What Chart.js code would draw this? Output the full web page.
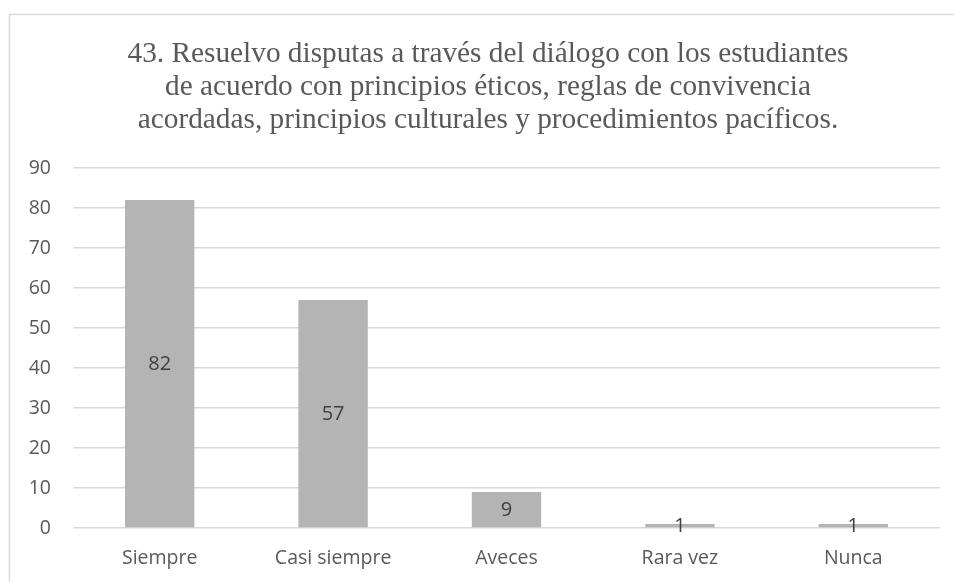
<!DOCTYPE html>
<html>
<head>
<meta charset="utf-8">
<script src="https://cdn.jsdelivr.net/npm/chart.js@4"></script>
<style>
  html, body { margin: 0; padding: 0; background: #fff; }
  #wrap { position: relative; width: 954px; height: 582px; }
</style>
</head>
<body>
<div id="wrap"><canvas id="chart" width="954" height="582"></canvas></div>
<script>
// Respuestas a la pregunta 43
const categories = ["Siempre", "Casi siempre", "Aveces", "Rara vez", "Nunca"];
const counts = [82, 57, 9, 1, 1];
const titleLines = [
  "43. Resuelvo disputas a través del diálogo con los estudiantes",
  "de acuerdo con principios éticos, reglas de convivencia",
  "acordadas, principios culturales y procedimientos pacíficos."
];
const yMin = 0, yMax = 90, yStep = 10;

const textGray = "#595959";
const gridGray = "#d9d9d9";
const barGray = "#b4b4b4";
const axisFont = { family: "'Open Sans'", size: 19.5 };

// thin frame along top and left edge, plus the three-line title
const framePlugin = {
  id: "frame",
  beforeDraw(chart) {
    const c = chart.ctx;
    c.save();
    c.strokeStyle = "#d9d9d9";
    c.lineWidth = 1.5;
    c.beginPath();
    c.moveTo(9.5, chart.height);
    c.lineTo(9.5, 14.5);
    c.lineTo(chart.width, 14.5);
    c.stroke();

    c.font = "29.3px 'Liberation Serif'";
    c.fillStyle = textGray;
    c.textAlign = "center";
    c.textBaseline = "alphabetic";
    titleLines.forEach((line, i) => c.fillText(line, 488, 62 + i * 33));
    c.restore();
  }
};

// value written in the middle of each bar
const valueLabels = {
  id: "valueLabels",
  afterDatasetsDraw(chart) {
    const c = chart.ctx;
    const meta = chart.getDatasetMeta(0);
    c.save();
    c.font = "20px 'Open Sans'";
    c.fillStyle = "#404040";
    c.textAlign = "center";
    c.textBaseline = "middle";
    meta.data.forEach((bar, i) => {
      const mid = (bar.y + bar.base) / 2;
      c.fillText(String(counts[i]), bar.x, mid + 1);
    });
    c.restore();
  }
};

new Chart(document.getElementById("chart"), {
  type: "bar",
  data: {
    labels: categories,
    datasets: [{
      data: counts,
      backgroundColor: barGray,
      borderWidth: 0,
      barPercentage: 1,
      categoryPercentage: 0.4,
    }],
  },
  options: {
    responsive: false,
    animation: false,
    layout: { padding: { left: 0, right: 14, top: 168, bottom: 0 } },
    plugins: {
      legend: { display: false },
      tooltip: { enabled: false },
      title: { display: false },
    },
    scales: {
      x: {
        afterFit: (axis) => { axis.height = 54; },
        grid: { display: false, drawTicks: false },
        border: { display: false },
        ticks: { color: textGray, font: axisFont, padding: 19, maxRotation: 0 },
      },
      y: {
        min: yMin,
        max: yMax,
        afterFit: (axis) => { axis.width = 73; },
        grid: { color: gridGray, lineWidth: 1.5, drawTicks: false },
        border: { display: false },
        ticks: { stepSize: yStep, color: textGray, font: axisFont, padding: 22 },
      },
    },
  },
  plugins: [framePlugin, valueLabels],
});
</script>
</body>
</html>
